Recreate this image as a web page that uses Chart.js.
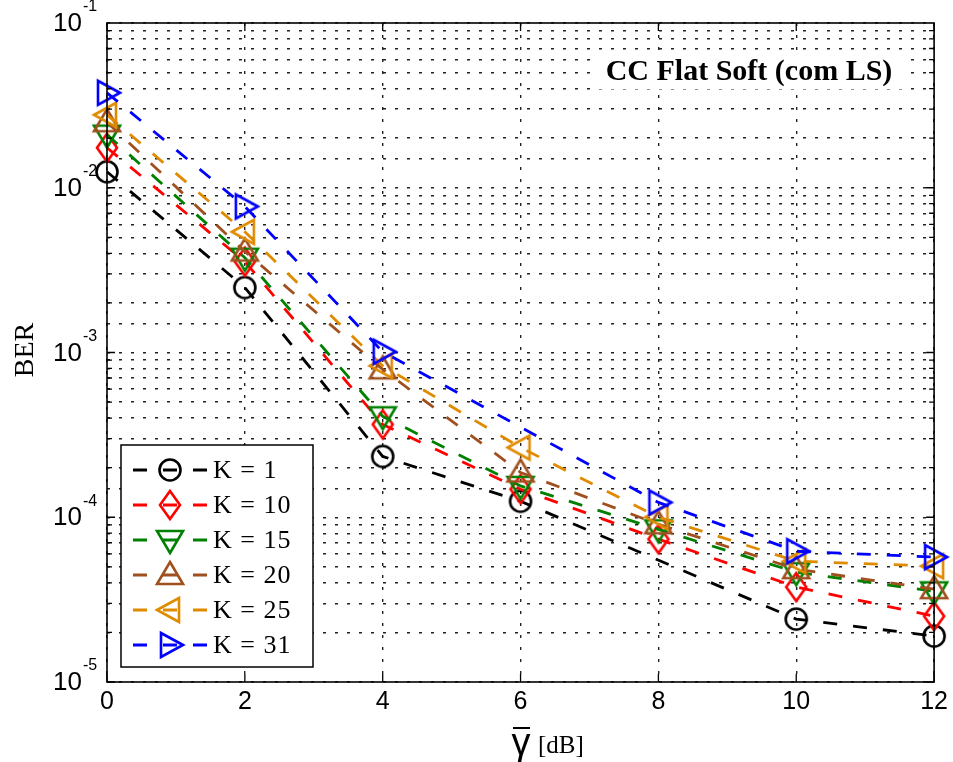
<!DOCTYPE html>
<html>
<head>
<meta charset="utf-8">
<script src="https://cdn.jsdelivr.net/npm/chart.js@4"></script>
<style>
  body { margin: 0; background: #fff; }
</style>
</head>
<body>
<canvas id="berChart" width="953" height="762"></canvas>
<script>
// SNR axis (dB) and BER curves for each K
const snrDb = [0, 2, 4, 6, 8, 10, 12];
const berK1  = [0.0125, 0.00248, 0.000234, 0.000125, null, 0.0000241, 0.000019];
const berK10 = [0.0175, 0.00356, 0.000366, 0.000148, 0.0000736, 0.0000377, 0.0000251];
const berK15 = [0.021, 0.00376, 0.00041, 0.000155, 0.0000845, 0.0000464, 0.0000355];
const berK20 = [0.025, 0.0041, 0.00079, 0.000187, 0.0000907, 0.0000484, 0.0000366];
const berK25 = [0.0277, 0.0054, 0.00083, 0.000265, 0.0001, 0.0000541, 0.0000505];
const berK31 = [0.0377, 0.0077, 0.00101, null, 0.000123, 0.0000622, 0.0000573];
const seriesLabels = ['K = 1', 'K = 10', 'K = 15', 'K = 20', 'K = 25', 'K = 31'];
const yExponents = [-1, -2, -3, -4, -5];
const xTicks = [0, 2, 4, 6, 8, 10, 12];

const colors = ['#000000', '#ff0000', '#008000', '#a0501e', '#e08a00', '#0000ff'];
const shapes = ['circle', 'diamond', 'down', 'up', 'left', 'right'];

function makeMarker(shape, color) {
    const c = document.createElement('canvas');
    c.width = 34;
    c.height = 34;
    const ctx = c.getContext('2d');
    ctx.translate(17, 17);
    ctx.strokeStyle = color;
    ctx.lineWidth = 2.6;
    ctx.beginPath();
    if (shape === 'circle') {
        ctx.arc(0, 0, 10.5, 0, Math.PI * 2);
    } else if (shape === 'diamond') {
        ctx.moveTo(0, -14); ctx.lineTo(10, 0); ctx.lineTo(0, 14); ctx.lineTo(-10, 0);
    } else if (shape === 'up') {
        ctx.moveTo(0, -13); ctx.lineTo(13, 9); ctx.lineTo(-13, 9);
    } else if (shape === 'down') {
        ctx.moveTo(0, 13); ctx.lineTo(13, -9); ctx.lineTo(-13, -9);
    } else if (shape === 'left') {
        ctx.moveTo(-13, 0); ctx.lineTo(9, -12); ctx.lineTo(9, 12);
    } else if (shape === 'right') {
        ctx.moveTo(13, 0); ctx.lineTo(-9, -12); ctx.lineTo(-9, 12);
    }
    ctx.closePath();
    ctx.stroke();
    return c;
}

const markers = shapes.map((s, i) => makeMarker(s, colors[i]));
const allSeries = [berK1, berK10, berK15, berK20, berK25, berK31];

const datasets = allSeries.map((arr, i) => ({
    label: seriesLabels[i],
    data: snrDb.map((x, j) => ({ x: x, y: arr[j] })),
    borderColor: colors[i],
    backgroundColor: 'transparent',
    borderWidth: 2.8,
    borderDash: [14, 16],
    pointStyle: markers[i],
    spanGaps: true,
    clip: false,
    order: 5 - i
}));

// white box behind the title, drawn before the datasets
const titleBgPlugin = {
    id: 'titleBg',
    beforeDatasetsDraw(chart) {
        const ctx = chart.ctx;
        ctx.save();
        ctx.fillStyle = '#fff';
        ctx.fillRect(596, 55, 306, 34);
        ctx.restore();
    }
};

// frame, inner ticks, y labels with exponents, axis labels, title and legend
const decorPlugin = {
    id: 'decor',
    afterDraw(chart) {
        const ctx = chart.ctx;
        const area = chart.chartArea;
        const xs = chart.scales.x;
        const ys = chart.scales.y;
        ctx.save();

        // box
        ctx.strokeStyle = '#000';
        ctx.lineWidth = 1.6;
        ctx.setLineDash([]);
        ctx.strokeRect(area.left, area.top, area.right - area.left, area.bottom - area.top);

        // inward ticks
        ctx.lineWidth = 1.3;
        ctx.beginPath();
        xTicks.forEach(v => {
            const px = xs.getPixelForValue(v);
            ctx.moveTo(px, area.bottom); ctx.lineTo(px, area.bottom - 8);
            ctx.moveTo(px, area.top); ctx.lineTo(px, area.top + 8);
        });
        yExponents.forEach(e => {
            for (let m = 1; m <= 9; m++) {
                const v = m * Math.pow(10, e - 1);
                if (v < 1e-5 || v > 0.1) continue;
                const py = ys.getPixelForValue(v);
                const len = m === 1 ? 8 : 5;
                ctx.moveTo(area.left, py); ctx.lineTo(area.left + len, py);
                ctx.moveTo(area.right, py); ctx.lineTo(area.right - len, py);
            }
        });
        ctx.stroke();

        // y tick labels 10^e
        ctx.fillStyle = '#000';
        yExponents.forEach(e => {
            const py = ys.getPixelForValue(Math.pow(10, e));
            ctx.font = '26px "Liberation Sans", Arial, sans-serif';
            ctx.textAlign = 'right';
            ctx.textBaseline = 'middle';
            ctx.fillText('10', 82, py + 1);
            ctx.font = '16px "Liberation Sans", Arial, sans-serif';
            ctx.textAlign = 'left';
            ctx.fillText('-' + Math.abs(e), 83, py - 16);
        });

        // y axis label
        ctx.save();
        ctx.translate(26, 350);
        ctx.rotate(-Math.PI / 2);
        ctx.font = '28px "Liberation Serif", "Times New Roman", serif';
        ctx.textAlign = 'center';
        ctx.textBaseline = 'middle';
        ctx.fillText('BER', 0, 0);
        ctx.restore();

        // x axis label: gamma with a bar, then [dB]
        ctx.font = '38px "Liberation Sans", Arial, sans-serif';
        ctx.textAlign = 'center';
        ctx.textBaseline = 'alphabetic';
        ctx.fillText('\u03B3', 521, 755);
        ctx.lineWidth = 2;
        ctx.beginPath();
        ctx.moveTo(513, 728); ctx.lineTo(530, 728);
        ctx.stroke();
        ctx.font = '25px "Liberation Serif", "Times New Roman", serif';
        ctx.textAlign = 'left';
        ctx.fillText('[dB]', 538, 753);

        // title inside axes
        ctx.font = 'bold 30px "Liberation Serif", "Times New Roman", serif';
        ctx.textAlign = 'center';
        ctx.textBaseline = 'middle';
        ctx.fillText('CC Flat Soft (com LS)', 749, 72);

        // legend
        const lx = 121, ly = 445, lw = 192, lh = 222;
        ctx.fillStyle = '#fff';
        ctx.fillRect(lx, ly, lw, lh);
        ctx.strokeStyle = '#000';
        ctx.lineWidth = 1.5;
        ctx.strokeRect(lx, ly, lw, lh);
        const rowY = [470, 505, 540, 575, 610, 645];
        chart.data.datasets.forEach((ds, i) => {
            const y = rowY[i];
            ctx.strokeStyle = colors[i];
            ctx.lineWidth = 2.8;
            ctx.setLineDash([14, 16]);
            ctx.beginPath();
            ctx.moveTo(133, y);
            ctx.lineTo(208, y);
            ctx.stroke();
            ctx.setLineDash([]);
            ctx.drawImage(markers[i], 170 - 17, y - 17);
            ctx.fillStyle = '#000';
            ctx.font = '26px "Liberation Serif", "Times New Roman", serif';
            ctx.letterSpacing = '1px';
            ctx.textAlign = 'left';
            ctx.textBaseline = 'middle';
            ctx.fillText(ds.label, 213, y + 1);
            ctx.letterSpacing = '0px';
        });

        ctx.restore();
    }
};

const gridStyle = {
    color: '#222',
    lineWidth: 1.4,
    drawTicks: false
};

const config = {
    type: 'line',
    data: { datasets: datasets },
    options: {
        responsive: false,
        animation: false,
        layout: {
            padding: { left: 0, right: 13, top: 23, bottom: 0 }
        },
        plugins: {
            legend: { display: false },
            tooltip: { enabled: false }
        },
        scales: {
            x: {
                type: 'linear',
                min: 0,
                max: 12,
                afterFit(scale) { scale.height = 80; },
                afterBuildTicks(scale) { scale.ticks = xTicks.map(v => ({ value: v })); },
                grid: gridStyle,
                border: { display: false, dash: [3, 9] },
                ticks: {
                    color: '#000',
                    padding: 5,
                    font: { family: '"Liberation Sans", Arial, sans-serif', size: 25 },
                    maxRotation: 0
                }
            },
            y: {
                type: 'logarithmic',
                min: 1e-5,
                max: 1e-1,
                afterFit(scale) { scale.width = 107; },
                grid: gridStyle,
                border: { display: false, dash: [3, 9] },
                ticks: {
                    display: false
                }
            }
        }
    },
    plugins: [titleBgPlugin, decorPlugin]
};

new Chart(
    document.getElementById('berChart'),
    config
);
</script>
</body>
</html>
